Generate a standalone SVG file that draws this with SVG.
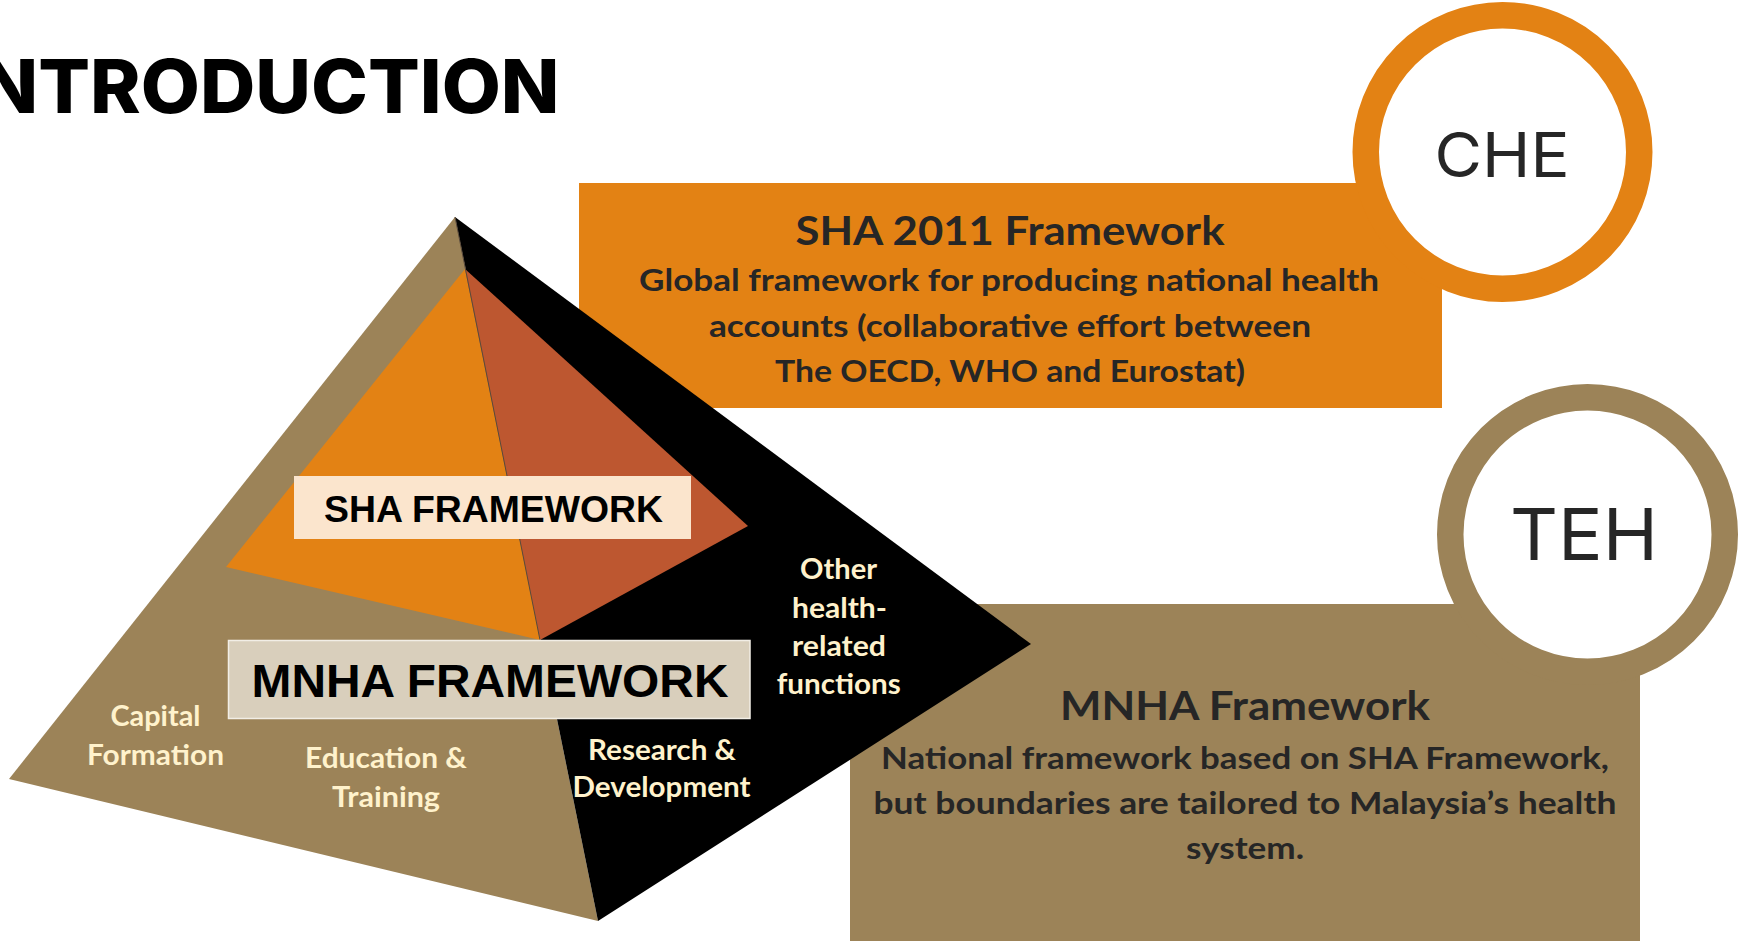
<svg xmlns="http://www.w3.org/2000/svg" width="1750" height="941" viewBox="0 0 1750 941">
<style>
.cal{font-family:Lato,"Open Sans","Liberation Sans",sans-serif;font-weight:700}
.geo{font-family:Inter,"Liberation Sans",sans-serif}
.arial{font-family:"Liberation Sans",Arial,sans-serif;font-weight:700;fill:#000}
.dark{fill:#262626}
.cream{fill:#FFF2CC;font-size:29px}
.mid{text-anchor:middle}
.head{font-size:41px}
.body{font-size:31px}
</style>
<rect width="1750" height="941" fill="#fff"/>
<g id="title">
<text class="geo" x="-20.5" y="113" font-size="74" font-weight="800" fill="#000" textLength="580" lengthAdjust="spacingAndGlyphs">NTRODUCTION</text>
</g>
<g id="sha2011-box">
<rect x="579" y="183" width="863" height="225" fill="#E38214"/>
<text class="cal dark mid head" x="1010" y="244.5" textLength="429" lengthAdjust="spacingAndGlyphs">SHA 2011 Framework</text>
<text class="cal dark mid body" x="1009" y="291" textLength="740" lengthAdjust="spacingAndGlyphs">Global framework for producing national health</text>
<text class="cal dark mid body" x="1010" y="336.5" textLength="602" lengthAdjust="spacingAndGlyphs">accounts (collaborative effort between</text>
<text class="cal dark mid body" x="1010" y="381.5" textLength="470" lengthAdjust="spacingAndGlyphs">The OECD, WHO and Eurostat)</text>
</g>
<g id="mnha-box">
<rect x="850" y="604" width="790" height="337" fill="#9C8358"/>
<text class="cal dark mid head" x="1245" y="720" textLength="370" lengthAdjust="spacingAndGlyphs">MNHA Framework</text>
<text class="cal dark mid body" x="1245" y="769" textLength="728" lengthAdjust="spacingAndGlyphs">National framework based on SHA Framework,</text>
<text class="cal dark mid body" x="1245" y="814" textLength="743" lengthAdjust="spacingAndGlyphs">but boundaries are tailored to Malaysia’s health</text>
<text class="cal dark mid body" x="1245" y="858.5" textLength="118" lengthAdjust="spacingAndGlyphs">system.</text>
</g>
<g id="pyramid">
<polygon points="455,217 9,779 598,921" fill="#9C8358"/>
<polygon points="455,217 1031,644 598,921" fill="#000"/>
<polygon points="465,269 226,567 540,640" fill="#E38214"/>
<polygon points="465,269 748,526 540,640" fill="#BD5730"/>
<line x1="455" y1="217" x2="540" y2="640" stroke="#5a4a3a" stroke-width="1"/>
</g>
<g id="sha-framework-label">
<rect x="294" y="476" width="397" height="63" fill="#FBE5CD"/>
<text class="arial mid" x="493.5" y="522" font-size="37" textLength="339" lengthAdjust="spacingAndGlyphs">SHA FRAMEWORK</text>
</g>
<g id="mnha-framework-label">
<rect x="228.5" y="640.5" width="521.5" height="78" fill="#D9CFBC" stroke="#F2EEE6" stroke-width="1.5"/>
<text class="arial mid" x="490" y="697" font-size="46" textLength="477" lengthAdjust="spacingAndGlyphs">MNHA FRAMEWORK</text>
</g>
<g id="capital-formation">
<text class="cal cream mid" x="155.5" y="726" textLength="90" lengthAdjust="spacingAndGlyphs">Capital</text>
<text class="cal cream mid" x="155.5" y="765" textLength="137" lengthAdjust="spacingAndGlyphs">Formation</text>
</g>
<g id="education-training">
<text class="cal cream mid" x="386" y="768" textLength="162" lengthAdjust="spacingAndGlyphs">Education &amp;</text>
<text class="cal cream mid" x="386" y="806.5" textLength="108" lengthAdjust="spacingAndGlyphs">Training</text>
</g>
<g id="research-development">
<text class="cal cream mid" x="662" y="760" textLength="148" lengthAdjust="spacingAndGlyphs">Research &amp;</text>
<text class="cal cream mid" x="661.5" y="797" textLength="178" lengthAdjust="spacingAndGlyphs">Development</text>
</g>
<g id="other-functions">
<text class="cal cream mid" x="838.5" y="578.5" textLength="77" lengthAdjust="spacingAndGlyphs">Other</text>
<text class="cal cream mid" x="839.5" y="617.5" textLength="95" lengthAdjust="spacingAndGlyphs">health-</text>
<text class="cal cream mid" x="839" y="655.5" textLength="94" lengthAdjust="spacingAndGlyphs">related</text>
<text class="cal cream mid" x="838.7" y="693.5" textLength="124" lengthAdjust="spacingAndGlyphs">functions</text>
</g>
<g id="che-circle">
<circle cx="1502.5" cy="152" r="136.75" fill="#fff" stroke="#E38214" stroke-width="26.5"/>
<text class="geo dark mid" x="1502" y="177" font-size="62" textLength="135" lengthAdjust="spacingAndGlyphs">CHE</text>
</g>
<g id="teh-circle">
<circle cx="1587.5" cy="534.5" r="137.25" fill="#fff" stroke="#9C8358" stroke-width="26.5"/>
<text class="geo dark mid" x="1584" y="560" font-size="72" textLength="148" lengthAdjust="spacingAndGlyphs">TEH</text>
</g>
<g id="connectors"/>
</svg>
